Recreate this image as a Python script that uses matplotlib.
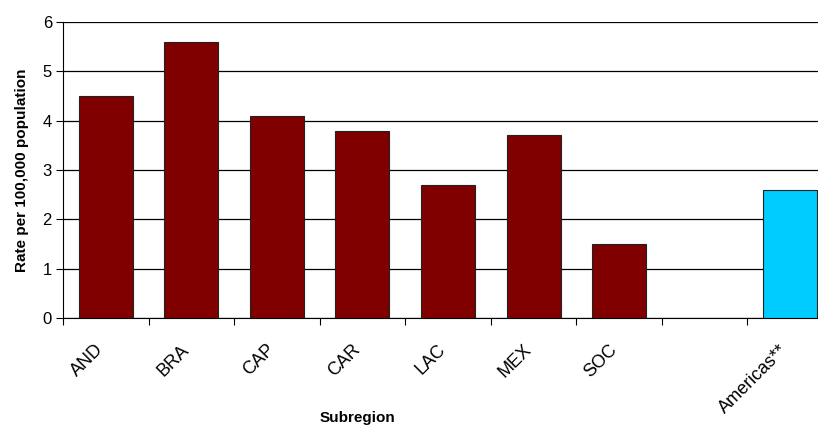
import numpy as np
import matplotlib.pyplot as plt
from matplotlib.transforms import ScaledTranslation

plt.rcParams['font.family'] = ['Liberation Sans', 'DejaVu Sans']

# Rates by subregion (the 8th slot is left empty in the original chart)
regions = ['AND', 'BRA', 'CAP', 'CAR', 'LAC', 'MEX', 'SOC', '', 'Americas**']
rates = [4.5, 5.6, 4.1, 3.8, 2.7, 3.7, 1.5, np.nan, 2.6]
bar_colors = ['#800000'] * 8 + ['#00CCFF']

fig = plt.figure(figsize=(8.18, 4.25), dpi=100)
ax = fig.add_axes([63 / 818, 107 / 425, 770 / 818, 296 / 425])

x = np.arange(len(regions))
ax.bar(x, rates, width=0.63, color=bar_colors, edgecolor='#222222', linewidth=0.8, zorder=3)

ax.set_ylim(0, 6)
ax.set_xlim(-0.5, len(regions) - 0.5)
ax.set_yticks(range(0, 7))
ax.yaxis.grid(True, color='black', linewidth=0.9, zorder=0)
ax.tick_params(axis='y', labelsize=12, length=5, direction='out', pad=3)

# category boundaries get the tick marks, centres get the labels
ax.set_xticks(np.arange(len(regions) + 1) - 0.5)
ax.set_xticklabels([])
ax.tick_params(axis='x', which='major', length=5, direction='out')
ax.set_xticks(x, minor=True)
ax.set_xticklabels(regions, minor=True, rotation=45, ha='right', va='center',
                   rotation_mode='anchor', fontsize=13)
ax.tick_params(axis='x', which='minor', length=0, pad=21)
shift = ScaledTranslation(-5 / 100, 0, fig.dpi_scale_trans)
for lbl in ax.get_xticklabels(minor=True):
    lbl.set_transform(lbl.get_transform() + shift)

for s in ['top', 'right']:
    ax.spines[s].set_visible(False)

ax.set_ylabel('Rate per 100,000 population', fontsize=11, fontweight='bold', labelpad=10)
ax.set_xlabel('Subregion', fontsize=11, fontweight='bold', va='top')
ax.xaxis.set_label_coords((357 - 63) / 770, (318 - 411) / 296)

fig.savefig('out.png', dpi=100)
